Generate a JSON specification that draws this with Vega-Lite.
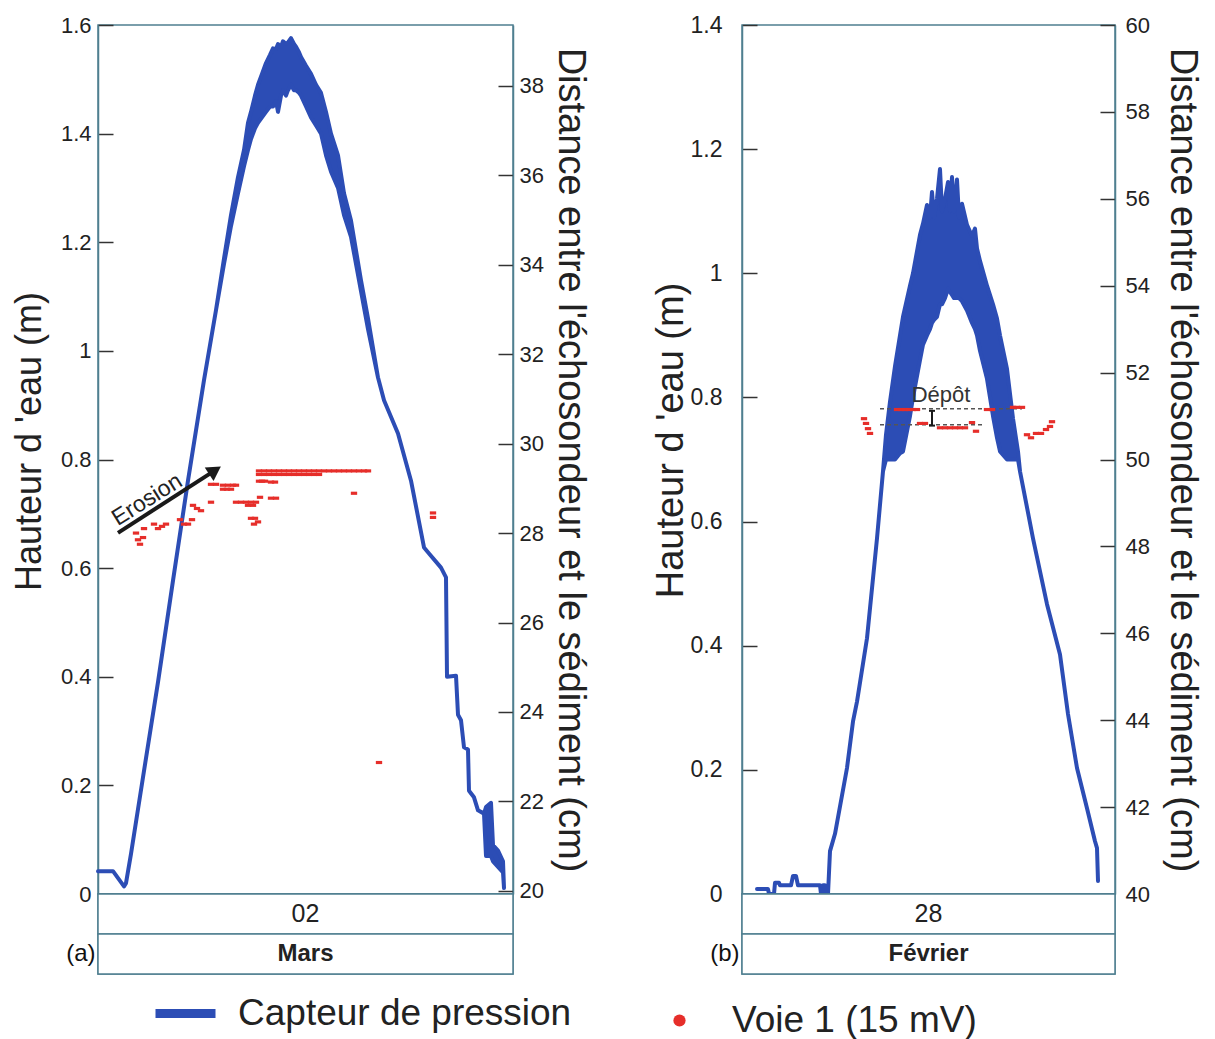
{
  "$schema": "https://vega.github.io/schema/vega-lite/v6.json",
  "background": "white",
  "padding": {"left": 10, "top": 13, "right": 5, "bottom": 5},
  "config": {
    "font": "Liberation Sans",
    "view": {"stroke": "#4f7f90", "strokeWidth": 1.5},
    "axis": {
      "grid": false,
      "labelFont": "Liberation Sans",
      "labelFontSize": 22,
      "labelColor": "#222",
      "labelFlush": false,
      "titleFont": "Liberation Sans",
      "titleFontSize": 35,
      "titleFontWeight": "normal",
      "titleColor": "#222",
      "domainColor": "#4f7f90",
      "domainWidth": 1.5,
      "tickColor": "#333",
      "tickWidth": 1.5,
      "tickSize": -15,
      "labelPadding": 22
    }
  },
  "datasets": {
    "blueA": [
      {"t": 0, "m2": 0.042, "m": 0.042}, {"t": 15, "m2": 0.042, "m": 0.042}, {"t": 26, "m2": 0.014, "m": 0.014},
      {"t": 28, "m2": 0.02, "m": 0.02}, {"t": 33, "m2": 0.074, "m": 0.074}, {"t": 45, "m2": 0.215, "m": 0.215},
      {"t": 60, "m2": 0.39, "m": 0.39}, {"t": 75, "m2": 0.577, "m": 0.577}, {"t": 90, "m2": 0.761, "m": 0.761},
      {"t": 106, "m2": 0.946, "m": 0.946}, {"t": 118, "m2": 1.075, "m": 1.075}, {"t": 126, "m2": 1.16, "m": 1.17},
      {"t": 133, "m2": 1.23, "m": 1.25}, {"t": 140, "m2": 1.29, "m": 1.32}, {"t": 146, "m2": 1.34, "m": 1.37},
      {"t": 150, "m2": 1.37, "m": 1.42}, {"t": 153, "m2": 1.39, "m": 1.44}, {"t": 157, "m2": 1.41, "m": 1.47},
      {"t": 160, "m2": 1.42, "m": 1.49}, {"t": 164, "m2": 1.43, "m": 1.51}, {"t": 168, "m2": 1.44, "m": 1.53},
      {"t": 172, "m2": 1.45, "m": 1.545}, {"t": 175, "m2": 1.45, "m": 1.557}, {"t": 178, "m2": 1.46, "m": 1.556},
      {"t": 180, "m2": 1.44, "m": 1.565}, {"t": 183, "m2": 1.47, "m": 1.56}, {"t": 185, "m2": 1.48, "m": 1.57},
      {"t": 188, "m2": 1.47, "m": 1.565}, {"t": 190, "m2": 1.48, "m": 1.568}, {"t": 193, "m2": 1.49, "m": 1.576},
      {"t": 196, "m2": 1.48, "m": 1.565}, {"t": 198, "m2": 1.48, "m": 1.56}, {"t": 201, "m2": 1.475, "m": 1.55},
      {"t": 203, "m2": 1.47, "m": 1.541}, {"t": 208, "m2": 1.45, "m": 1.525}, {"t": 213, "m2": 1.43, "m": 1.51},
      {"t": 218, "m2": 1.415, "m": 1.49}, {"t": 223, "m2": 1.4, "m": 1.475}, {"t": 228, "m2": 1.36, "m": 1.44},
      {"t": 233, "m2": 1.33, "m": 1.4}, {"t": 240, "m2": 1.3, "m": 1.36}, {"t": 246, "m2": 1.25, "m": 1.29},
      {"t": 253, "m2": 1.21, "m": 1.24}, {"t": 263, "m2": 1.11, "m": 1.13}, {"t": 270, "m2": 1.04, "m": 1.06},
      {"t": 280, "m2": 0.951, "m": 0.951}, {"t": 286, "m2": 0.909, "m": 0.909}, {"t": 300, "m2": 0.848, "m": 0.848},
      {"t": 313, "m2": 0.761, "m": 0.761}, {"t": 326, "m2": 0.638, "m": 0.638}, {"t": 331, "m2": 0.627, "m": 0.627},
      {"t": 343, "m2": 0.601, "m": 0.601}, {"t": 348, "m2": 0.583, "m": 0.583}, {"t": 349, "m2": 0.4, "m": 0.4},
      {"t": 358, "m2": 0.402, "m": 0.402}, {"t": 360, "m2": 0.33, "m": 0.33}, {"t": 363, "m2": 0.32, "m": 0.32},
      {"t": 366, "m2": 0.27, "m": 0.27}, {"t": 370, "m2": 0.266, "m": 0.266}, {"t": 371, "m2": 0.19, "m": 0.19},
      {"t": 376, "m2": 0.178, "m": 0.178}, {"t": 380, "m2": 0.154, "m": 0.154}, {"t": 386, "m2": 0.148, "m": 0.148},
      {"t": 388, "m2": 0.07, "m": 0.16}, {"t": 393, "m2": 0.07, "m": 0.168}, {"t": 395, "m2": 0.06, "m": 0.09},
      {"t": 400, "m2": 0.05, "m": 0.08}, {"t": 405, "m2": 0.04, "m": 0.06}, {"t": 406, "m2": 0.011, "m": 0.011}
    ],
    "redA": [
      {"t": 161, "c": 29.39}, {"t": 166, "c": 29.39}, {"t": 171, "c": 29.39}, {"t": 176, "c": 29.39}, {"t": 181, "c": 29.39},
      {"t": 186, "c": 29.39}, {"t": 191, "c": 29.39}, {"t": 196, "c": 29.39}, {"t": 201, "c": 29.39}, {"t": 206, "c": 29.39},
      {"t": 211, "c": 29.39}, {"t": 216, "c": 29.39}, {"t": 221, "c": 29.39}, {"t": 226, "c": 29.39}, {"t": 231, "c": 29.39},
      {"t": 236, "c": 29.39}, {"t": 241, "c": 29.39}, {"t": 246, "c": 29.39}, {"t": 251, "c": 29.39}, {"t": 256, "c": 29.39},
      {"t": 261, "c": 29.39}, {"t": 266, "c": 29.39}, {"t": 270, "c": 29.39},
      {"t": 161, "c": 29.31}, {"t": 166, "c": 29.31}, {"t": 171, "c": 29.31}, {"t": 176, "c": 29.31}, {"t": 181, "c": 29.31},
      {"t": 186, "c": 29.31}, {"t": 191, "c": 29.31}, {"t": 196, "c": 29.31}, {"t": 201, "c": 29.31}, {"t": 206, "c": 29.31},
      {"t": 211, "c": 29.31}, {"t": 216, "c": 29.31}, {"t": 221, "c": 29.31},
      {"t": 161, "c": 29.16}, {"t": 164, "c": 29.16}, {"t": 167, "c": 29.16}, {"t": 173, "c": 29.14}, {"t": 177, "c": 29.14},
      {"t": 125, "c": 29.07}, {"t": 130, "c": 29.07}, {"t": 135, "c": 29.07}, {"t": 138, "c": 29.07},
      {"t": 125, "c": 28.98}, {"t": 129, "c": 28.98}, {"t": 133, "c": 28.98},
      {"t": 113, "c": 29.09}, {"t": 118, "c": 29.09},
      {"t": 162, "c": 28.8}, {"t": 173, "c": 28.78}, {"t": 178, "c": 28.78},
      {"t": 138, "c": 28.69}, {"t": 143, "c": 28.69}, {"t": 148, "c": 28.69}, {"t": 153, "c": 28.69}, {"t": 158, "c": 28.69},
      {"t": 150, "c": 28.62}, {"t": 155, "c": 28.62}, {"t": 113, "c": 28.69},
      {"t": 95, "c": 28.62}, {"t": 99, "c": 28.55}, {"t": 103, "c": 28.5},
      {"t": 153, "c": 28.33}, {"t": 157, "c": 28.33}, {"t": 156, "c": 28.2}, {"t": 160, "c": 28.25},
      {"t": 82, "c": 28.3}, {"t": 86, "c": 28.2}, {"t": 90, "c": 28.2}, {"t": 94, "c": 28.3},
      {"t": 56, "c": 28.2}, {"t": 60, "c": 28.1}, {"t": 64, "c": 28.15}, {"t": 68, "c": 28.2},
      {"t": 38, "c": 28.0}, {"t": 40, "c": 27.85}, {"t": 42, "c": 27.75}, {"t": 45, "c": 27.9}, {"t": 46, "c": 28.1},
      {"t": 256, "c": 28.89}, {"t": 335, "c": 28.45}, {"t": 335, "c": 28.35}, {"t": 281, "c": 22.87}
    ],
    "arrowA": [{"t": 20, "m": 0.665, "t2": 117, "m2": 0.78}],
    "headA": [{"t": 117, "m": 0.78}],
    "textA": [{"t": 49, "m": 0.726, "label": "Erosion"}],
    "blueB": [
      {"t": 15, "m2": 0.008, "m": 0.008}, {"t": 26, "m2": 0.008, "m": 0.008}, {"t": 27, "m2": 0.0, "m": 0.0},
      {"t": 32, "m2": 0.0, "m": 0.0}, {"t": 33, "m2": 0.018, "m": 0.018}, {"t": 37, "m2": 0.018, "m": 0.018},
      {"t": 38, "m2": 0.014, "m": 0.014}, {"t": 49, "m2": 0.014, "m": 0.014}, {"t": 51, "m2": 0.029, "m": 0.029},
      {"t": 54, "m2": 0.029, "m": 0.029}, {"t": 56, "m2": 0.014, "m": 0.014}, {"t": 78, "m2": 0.014, "m": 0.014},
      {"t": 79, "m2": 0.0, "m": 0.0}, {"t": 80, "m2": 0.0, "m": 0.0}, {"t": 81, "m2": 0.014, "m": 0.014},
      {"t": 83, "m2": 0.014, "m": 0.014}, {"t": 84, "m2": 0.0, "m": 0.0}, {"t": 86, "m2": 0.0, "m": 0.0},
      {"t": 88, "m2": 0.069, "m": 0.069}, {"t": 93, "m2": 0.097, "m": 0.097}, {"t": 105, "m2": 0.203, "m": 0.203},
      {"t": 111, "m2": 0.278, "m": 0.278}, {"t": 115, "m2": 0.31, "m": 0.31}, {"t": 125, "m2": 0.412, "m": 0.412},
      {"t": 135, "m2": 0.573, "m": 0.573}, {"t": 141, "m2": 0.681, "m": 0.681}, {"t": 144, "m2": 0.7, "m": 0.74},
      {"t": 148, "m2": 0.7, "m": 0.793}, {"t": 153, "m2": 0.7, "m": 0.85}, {"t": 158, "m2": 0.71, "m": 0.9},
      {"t": 161, "m2": 0.713, "m": 0.93}, {"t": 168, "m2": 0.77, "m": 0.98}, {"t": 171, "m2": 0.8, "m": 1.0},
      {"t": 178, "m2": 0.86, "m": 1.062}, {"t": 181, "m2": 0.885, "m": 1.08}, {"t": 185, "m2": 0.9, "m": 1.11},
      {"t": 188, "m2": 0.91, "m": 1.09}, {"t": 190, "m2": 0.92, "m": 1.131}, {"t": 192, "m2": 0.925, "m": 1.09},
      {"t": 195, "m2": 0.93, "m": 1.12}, {"t": 198, "m2": 0.95, "m": 1.168}, {"t": 200, "m2": 0.95, "m": 1.1},
      {"t": 203, "m2": 0.96, "m": 1.12}, {"t": 206, "m2": 0.975, "m": 1.147}, {"t": 208, "m2": 0.97, "m": 1.1},
      {"t": 210, "m2": 0.965, "m": 1.155}, {"t": 212, "m2": 0.96, "m": 1.1}, {"t": 215, "m2": 0.96, "m": 1.151},
      {"t": 217, "m2": 0.96, "m": 1.09}, {"t": 220, "m2": 0.955, "m": 1.112}, {"t": 225, "m2": 0.94, "m": 1.078},
      {"t": 230, "m2": 0.92, "m": 1.06}, {"t": 233, "m2": 0.91, "m": 1.072}, {"t": 235, "m2": 0.9, "m": 1.04},
      {"t": 238, "m2": 0.875, "m": 1.02}, {"t": 245, "m2": 0.83, "m": 0.98}, {"t": 251, "m2": 0.77, "m": 0.95},
      {"t": 255, "m2": 0.735, "m": 0.927}, {"t": 258, "m2": 0.713, "m": 0.9}, {"t": 265, "m2": 0.7, "m": 0.846},
      {"t": 271, "m2": 0.7, "m": 0.766}, {"t": 276, "m2": 0.7, "m": 0.713}, {"t": 278, "m2": 0.681, "m": 0.681},
      {"t": 291, "m2": 0.573, "m": 0.573}, {"t": 305, "m2": 0.467, "m": 0.467}, {"t": 318, "m2": 0.386, "m": 0.386},
      {"t": 326, "m2": 0.29, "m": 0.29}, {"t": 335, "m2": 0.203, "m": 0.203}, {"t": 345, "m2": 0.138, "m": 0.138},
      {"t": 353, "m2": 0.085, "m": 0.085}, {"t": 355, "m2": 0.074, "m": 0.074}, {"t": 356, "m2": 0.021, "m": 0.021}
    ],
    "redB": [
      {"t": 122, "c": 50.94}, {"t": 124, "c": 50.83}, {"t": 126, "c": 50.71}, {"t": 128, "c": 50.6},
      {"t": 155, "c": 51.15}, {"t": 159, "c": 51.15}, {"t": 163, "c": 51.15}, {"t": 167, "c": 51.15}, {"t": 171, "c": 51.15}, {"t": 175, "c": 51.15},
      {"t": 245, "c": 51.15}, {"t": 250, "c": 51.15}, {"t": 271, "c": 51.2}, {"t": 275, "c": 51.2}, {"t": 280, "c": 51.2},
      {"t": 178, "c": 50.83}, {"t": 183, "c": 50.83},
      {"t": 198, "c": 50.73}, {"t": 203, "c": 50.73}, {"t": 208, "c": 50.73}, {"t": 213, "c": 50.73}, {"t": 218, "c": 50.73}, {"t": 223, "c": 50.73},
      {"t": 230, "c": 50.85}, {"t": 234, "c": 50.65},
      {"t": 285, "c": 50.57}, {"t": 289, "c": 50.5}, {"t": 294, "c": 50.6}, {"t": 299, "c": 50.6}, {"t": 304, "c": 50.69}, {"t": 308, "c": 50.76}, {"t": 310, "c": 50.87}
    ],
    "dashB": [{"t": 138, "t2": 280, "c": 51.17}, {"t": 138, "t2": 240, "c": 50.8}],
    "markB": [
      {"t": 190, "t2": 190, "c": 51.12, "c2": 50.78},
      {"t": 187, "t2": 193, "c": 51.12, "c2": 51.12},
      {"t": 187, "t2": 193, "c": 50.78, "c2": 50.78}
    ],
    "textB": [{"t": 199, "c": 51.49, "label": "Dépôt"}],
    "boxA": [{"row": "02", "label": "02"}, {"row": "Mars", "label": "Mars"}],
    "boxB": [{"row": "28", "label": "28"}, {"row": "Février", "label": "Février"}]
  },
  "spacing": 61,
  "hconcat": [
    {
      "spacing": 0,
      "bounds": "flush",
      "vconcat": [
        {
          "width": 415,
          "height": 869,
          "resolve": {"scale": {"y": "independent"}},
          "layer": [
            {
              "encoding": {
                "x": {"field": "t", "type": "quantitative", "scale": {"domain": [0, 415]}, "axis": null},
                "y": {"field": "m", "type": "quantitative", "scale": {"domain": [0, 1.6]},
                  "axis": {"title": "Hauteur d 'eau (m)", "values": [0, 0.2, 0.4, 0.6, 0.8, 1, 1.2, 1.4, 1.6], "format": "~g", "titleY": 416, "titlePadding": 12, "titleFontSize": 36}}
              },
              "layer": [
                {
                  "data": {"name": "blueA"},
                  "mark": {"type": "area", "stroke": "#2c4db5", "strokeWidth": 4, "strokeJoin": "round", "opacity": 1},
                  "encoding": {
                    "y2": {"field": "m2"},
                    "color": {
                      "datum": "Capteur de pression",
                      "scale": {"domain": ["Capteur de pression"], "range": ["#2c4db5"]},
                      "legend": {
                        "orient": "none", "legendX": 53, "legendY": 954, "direction": "horizontal", "title": null,
                        "labelFont": "Liberation Sans", "labelFontSize": 37, "labelColor": "#222", "labelLimit": 800,
                        "symbolSize": 3600, "symbolType": "stroke", "symbolStrokeWidth": 9, "symbolStrokeColor": "#2c4db5",
                        "labelOffset": 18, "padding": 0
                      }
                    }
                  }
                },
                {
                  "data": {"name": "arrowA"},
                  "mark": {"type": "rule", "color": "#1a1a1a", "strokeWidth": 4},
                  "encoding": {"x2": {"field": "t2"}, "y2": {"field": "m2"}}
                },
                {
                  "data": {"name": "headA"},
                  "mark": {"type": "point", "shape": "triangle-right", "filled": true, "color": "#1a1a1a", "size": 260, "angle": -33, "opacity": 1},
                  "encoding": {}
                },
                {
                  "data": {"name": "textA"},
                  "mark": {"type": "text", "font": "Liberation Sans", "fontSize": 23, "color": "#222", "angle": -32},
                  "encoding": {"text": {"field": "label"}}
                }
              ]
            },
            {
              "encoding": {
                "x": {"field": "t", "type": "quantitative", "scale": {"domain": [0, 415]}, "axis": null},
                "y": {"field": "c", "type": "quantitative", "scale": {"domain": [19.93, 39.36]},
                  "axis": {"title": "Distance entre l'échosondeur et le sédiment (cm)", "values": [20, 22, 24, 26, 28, 30, 32, 34, 36, 38], "labelPadding": 21, "titlePadding": 7, "titleFontSize": 38}}
              },
              "layer": [
                {
                  "data": {"name": "redA"},
                  "mark": {"type": "point", "shape": "M-1,-0.5L1,-0.5L1,0.5L-1,0.5Z", "size": 40, "filled": true, "opacity": 1},
                  "encoding": {
                    "fill": {
                      "datum": "Voie 1 (15 mV)",
                      "scale": {"domain": ["Voie 1 (15 mV)"], "range": ["#e62e2a"]},
                      "legend": {
                        "orient": "none", "legendX": 563, "legendY": 977, "direction": "horizontal", "title": null,
                        "labelFont": "Liberation Sans", "labelFontSize": 37, "labelColor": "#222", "labelLimit": 800,
                        "symbolSize": 150, "symbolType": "circle", "symbolStrokeWidth": 0,
                        "labelOffset": 34, "padding": 0
                      }
                    }
                  }
                }
              ]
            }
          ]
        },
        {
          "width": 415,
          "height": 80,
          "data": {"name": "boxA"},
          "encoding": {
            "y": {"field": "row", "type": "nominal", "sort": null, "scale": {"paddingInner": 0, "paddingOuter": 0},
              "axis": {"title": null, "domain": false, "ticks": false, "labelPadding": 3, "labelFontSize": 24, "labelColor": "#111",
                "labelExpr": "datum.value === 'Mars' ? '(a)' : ''"}}
          },
          "layer": [
            {"mark": {"type": "rect", "fill": "white", "stroke": "#4f7f90", "strokeWidth": 1.5}},
            {"transform": [{"filter": "datum.row === '02'"}], "mark": {"type": "text", "font": "Liberation Sans", "fontSize": 25, "color": "#222"}, "encoding": {"text": {"field": "label"}}},
            {"transform": [{"filter": "datum.row !== '02'"}], "mark": {"type": "text", "font": "Liberation Sans", "fontSize": 24, "fontWeight": "bold", "color": "#222"}, "encoding": {"text": {"field": "label"}}}
          ]
        }
      ]
    },
    {
      "spacing": 0,
      "bounds": "flush",
      "vconcat": [
        {
          "width": 373,
          "height": 869,
          "resolve": {"scale": {"y": "independent"}},
          "layer": [
            {
              "encoding": {
                "x": {"field": "t", "type": "quantitative", "scale": {"domain": [0, 373]}, "axis": null},
                "y": {"field": "m", "type": "quantitative", "scale": {"domain": [0, 1.4]},
                  "axis": {"title": "Hauteur d 'eau (m)", "values": [0, 0.2, 0.4, 0.6, 0.8, 1, 1.2, 1.4], "format": "~g", "titleY": 415, "titlePadding": 0, "titleFontSize": 38, "labelFontSize": 23, "labelPadding": 35}}
              },
              "layer": [
                {
                  "data": {"name": "blueB"},
                  "mark": {"type": "area", "stroke": "#2c4db5", "strokeWidth": 4, "strokeJoin": "round", "opacity": 1},
                  "encoding": {"y2": {"field": "m2"}, "color": {"datum": "Capteur de pression"}}
                }
              ]
            },
            {
              "encoding": {
                "x": {"field": "t", "type": "quantitative", "scale": {"domain": [0, 373]}, "axis": null},
                "y": {"field": "c", "type": "quantitative", "scale": {"domain": [40, 60]},
                  "axis": {"title": "Distance entre l'échosondeur et le sédiment (cm)", "values": [40, 42, 44, 46, 48, 50, 52, 54, 56, 58, 60], "labelPadding": 25, "titlePadding": 13, "titleFontSize": 38}}
              },
              "layer": [
                {
                  "data": {"name": "dashB"},
                  "mark": {"type": "rule", "color": "#555", "strokeWidth": 1.5, "strokeDash": [4, 3]},
                  "encoding": {"x2": {"field": "t2"}}
                },
                {
                  "data": {"name": "redB"},
                  "mark": {"type": "point", "shape": "M-1,-0.5L1,-0.5L1,0.5L-1,0.5Z", "size": 40, "filled": true, "opacity": 1},
                  "encoding": {"fill": {"datum": "Voie 1 (15 mV)"}}
                },
                {
                  "data": {"name": "markB"},
                  "mark": {"type": "rule", "color": "#1a1a1a", "strokeWidth": 2},
                  "encoding": {"x2": {"field": "t2"}, "y2": {"field": "c2"}}
                },
                {
                  "data": {"name": "textB"},
                  "mark": {"type": "text", "font": "Liberation Sans", "fontSize": 22, "color": "#333"},
                  "encoding": {"text": {"field": "label"}}
                }
              ]
            }
          ]
        },
        {
          "width": 373,
          "height": 80,
          "data": {"name": "boxB"},
          "encoding": {
            "y": {"field": "row", "type": "nominal", "sort": null, "scale": {"paddingInner": 0, "paddingOuter": 0},
              "axis": {"title": null, "domain": false, "ticks": false, "labelPadding": 3, "labelFontSize": 24, "labelColor": "#111",
                "labelExpr": "datum.value === 'Février' ? '(b)' : ''"}}
          },
          "layer": [
            {"mark": {"type": "rect", "fill": "white", "stroke": "#4f7f90", "strokeWidth": 1.5}},
            {"transform": [{"filter": "datum.row === '28'"}], "mark": {"type": "text", "font": "Liberation Sans", "fontSize": 25, "color": "#222"}, "encoding": {"text": {"field": "label"}}},
            {"transform": [{"filter": "datum.row !== '28'"}], "mark": {"type": "text", "font": "Liberation Sans", "fontSize": 24, "fontWeight": "bold", "color": "#222"}, "encoding": {"text": {"field": "label"}}}
          ]
        }
      ]
    }
  ]
}
